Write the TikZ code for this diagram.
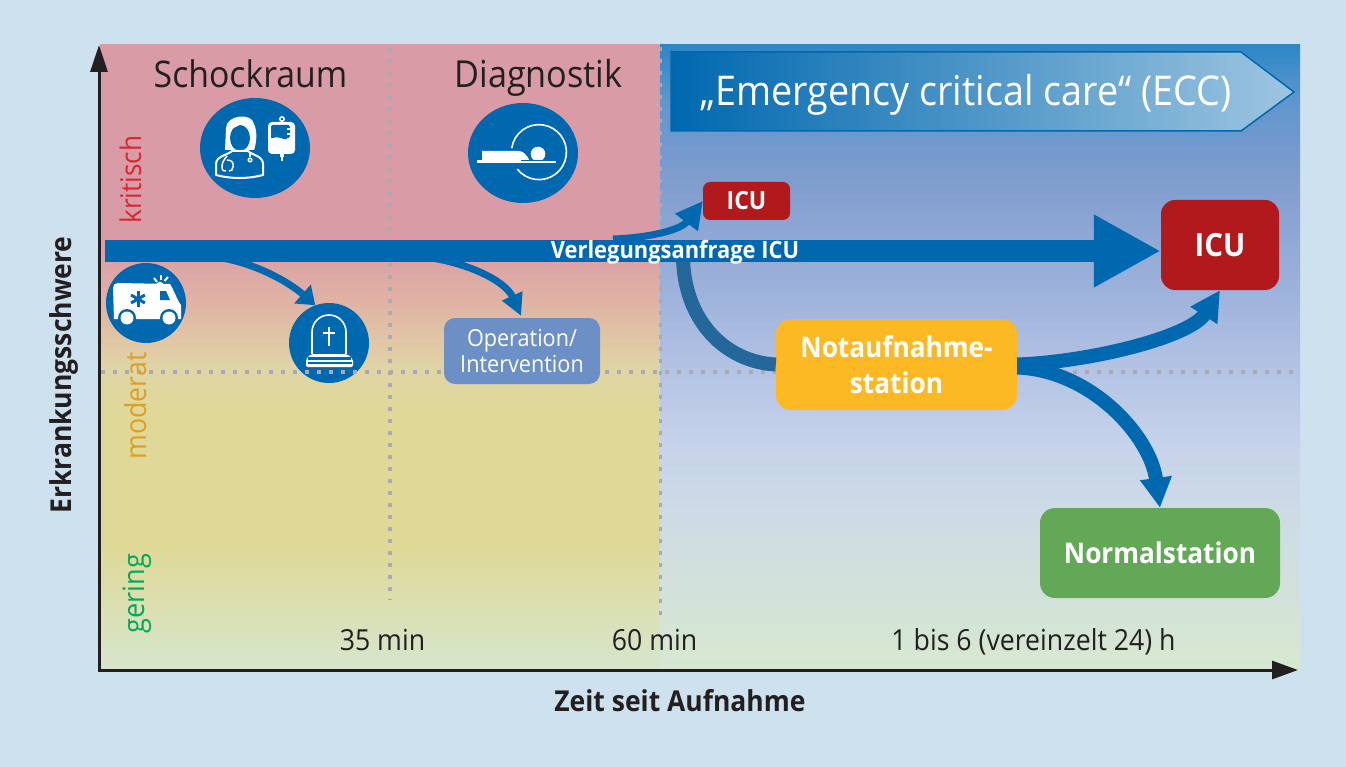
\documentclass[tikz,border=0pt]{standalone}
\usepackage{fontspec}
\setmainfont{Open Sans}[FakeStretch=0.92]
\usetikzlibrary{arrows.meta}
\definecolor{bgc}{RGB}{205,225,238}
\definecolor{axisc}{RGB}{35,31,32}
\definecolor{blu}{RGB}{0,104,175}
\definecolor{dblu}{RGB}{36,104,155}
\definecolor{dotc}{RGB}{170,170,175}
\definecolor{icured}{RGB}{178,25,28}
\definecolor{opbox}{RGB}{108,143,198}
\definecolor{nfbox}{RGB}{253,185,36}
\definecolor{nsbox}{RGB}{98,168,86}
\definecolor{critc}{RGB}{215,40,50}
\definecolor{modc}{RGB}{220,160,40}
\definecolor{gerc}{RGB}{0,170,90}
\pgfdeclareverticalshading{leftbg}{100bp}{
 rgb(0bp)=(0.839,0.902,0.804);
 rgb(25bp)=(0.839,0.902,0.804);
 rgb(35.4bp)=(0.878,0.847,0.588);
 rgb(45bp)=(0.878,0.847,0.588);
 rgb(48.85bp)=(0.878,0.839,0.647);
 rgb(54.6bp)=(0.878,0.698,0.647);
 rgb(59.4bp)=(0.851,0.608,0.647);
 rgb(75bp)=(0.851,0.608,0.647);
 rgb(100bp)=(0.851,0.608,0.647)}
\pgfdeclareverticalshading{rightbg}{100bp}{
 rgb(0bp)=(0.843,0.910,0.816);
 rgb(25bp)=(0.843,0.910,0.816);
 rgb(37bp)=(0.804,0.863,0.894);
 rgb(43.4bp)=(0.776,0.824,0.922);
 rgb(54.6bp)=(0.627,0.706,0.863);
 rgb(65bp)=(0.490,0.608,0.804);
 rgb(70.6bp)=(0.373,0.588,0.804);
 rgb(75bp)=(0.176,0.529,0.776);
 rgb(100bp)=(0.176,0.529,0.776)}
\usetikzlibrary{shapes.geometric}
\tikzset{
 x=1pt,y=-1pt,
 lbl/.style={inner sep=0pt,text=axisc},
 dots/.style={dotc,line width=3.6pt,dash pattern=on 3.6pt off 8.4pt},
 ax/.style={axisc,line width=3pt},
 disc/.style={ellipse,fill=blu,inner sep=0pt},
 wbox/.style={rounded corners=#1,inner sep=0pt,align=center,text=white,font=\bfseries},
 flow/.style={blu,line width=#1},
 ico/.style={white,line width=2pt,line join=round,line cap=round},
}
\begin{document}
\begin{tikzpicture}
\useasboundingbox (0,0) rectangle (1346,767);
\fill[bgc] (0,0) rectangle (1346,767);
% panels
\path[shading=leftbg] (100,45) rectangle (660,670);
\path[shading=rightbg] (660,45) rectangle (1300,670);
% circle below dots
\node[disc,minimum width=80pt,minimum height=80pt] (grave) at (329,343) {};
% dotted guides
\draw[dots] (390,47) -- (390,600);
\draw[dots] (660.5,47) -- (660.5,620);
\draw[dots] (101,372) -- (1298,372);
% banner
\path[left color=blu,right color=blu!38!white,draw=blu,line width=1.5pt]
  (671,52) -- (1241,52) -- (1294,92) -- (1241,131) -- (671,131) -- cycle;
\node[lbl,text=white,font=\fontsize{41}{41}\selectfont,anchor=base west] (ecc) at (700,105.5) {„Emergency critical care“ (ECC)};
% boxes
\node[wbox=14pt,fill=icured,minimum width=118pt,minimum height=90pt,font=\bfseries\fontsize{32}{32}\selectfont] (icu) at (1220,245) {ICU};
\node[wbox=7pt,fill=icured,minimum width=87pt,minimum height=38pt,font=\bfseries\fontsize{25}{25}\selectfont] (icus) at (746.5,201) {\raisebox{-1.5pt}{ICU}};
\node[wbox=11pt,fill=opbox,minimum width=156pt,minimum height=66pt,font=\fontsize{23.5}{26}\selectfont] (op) at (522,351) {Operation/\\Intervention};
\node[wbox=15pt,fill=nfbox,minimum width=241pt,minimum height=91pt,font=\bfseries\fontsize{28.5}{36}\selectfont] (nf) at (896.5,364.5) {\raisebox{-1pt}{Notaufnahme-}\\\raisebox{-1pt}{station}\hspace{8pt}};
\node[wbox=15pt,fill=nsbox,minimum width=240pt,minimum height=90pt,font=\bfseries\fontsize{28.5}{28.5}\selectfont] (ns) at (1160,553) {\raisebox{-1pt}{Normalstation}};
% connectors
\coordinate (mainstart) at (105,251);
\coordinate (s1) at (215,257);
\coordinate (s2) at (425,257);
\coordinate (s3) at (613,239);
\coordinate (s4) at (683,255);
\draw[dblu,line width=14pt] (s4) .. controls (683,320) and (725,362) .. (nf.west);
\draw[flow=22pt,-{Triangle[length=67pt,width=68pt]}] (mainstart) -- (mainstart -| icu.west);
\draw[flow=7pt,-{Triangle[length=17pt,width=24pt]}] (s1) .. controls (255,262) and (290,283) .. (grave.110);
\draw[flow=7pt,-{Triangle[length=22pt,width=21pt]},shorten >=2pt] (s2) .. controls (465,262) and (505,280) .. (op.north);
\draw[flow=7pt,-{Triangle[length=27pt,width=27pt]}] (s3) .. controls (645,238) and (680,231) .. (icus.west);
\draw[flow=14pt,-{Triangle[length=30pt,width=30pt]}] (nf.east) .. controls (1090,362) and (1190,337) .. (icu.south);
\draw[flow=14pt,-{Triangle[length=30pt,width=30pt]}] ([yshift=-3pt]nf.east) .. controls (1090,370) and (1150,435) .. (ns.north);
\node[lbl,text=white,font=\bfseries\fontsize{23.8}{23.8}\selectfont,anchor=base] (verl) at (675,258.5) {Verlegungsanfrage ICU};
% axes
\coordinate (orig) at (99,670);
\coordinate (ytop) at (99,45);
\coordinate (xend) at (1298,670);
\draw[ax,-{Triangle[length=27pt,width=17pt]}] ([yshift=1.5pt]orig) -- (ytop);
\draw[ax,-{Triangle[length=26pt,width=18pt]}] ([xshift=-1.5pt]orig) -- (xend);
% discs
\node[disc,minimum width=110pt,minimum height=100pt] (d1) at (255,148) {};
\node[disc,minimum width=110pt,minimum height=100pt] (d2) at (523,153) {};
\node[disc,minimum width=80pt,minimum height=80pt] (amb) at (146,303) {};
% doctor icon
\fill[white] (225,150) -- (226,128) .. controls (226,115) and (252,112) .. (254,124) .. controls (258,132) and (256,145) .. (254,150) -- cycle;
\fill[blu] (240,138) ellipse[x radius=10pt,y radius=13pt];
\fill[white] (226,129) .. controls (235,129) and (243,124) .. (246,118) .. controls (240,116) and (229,118) .. (226,129) -- cycle;
\draw[ico] (216,175) -- (216,164) .. controls (216,156) and (228,155) .. (232,151) -- (248,151) .. controls (252,155) and (263,156) .. (263,164) -- (263,175) .. controls (248,179) and (231,179) .. (216,175) -- cycle;
\draw[white,line width=1.5pt] (227,156) .. controls (224,160) and (222,162) .. (222,167) .. controls (222,171) and (224,171) .. (226,171);
\draw[white,line width=1.5pt] (227,160) .. controls (232,160) and (234,163) .. (233,167) .. controls (233,170) and (231,171) .. (229,171);
\draw[white,line width=1.5pt] (250,153) -- (250,157);
\fill[white] (250,160) circle[radius=2.6pt];
\fill[blu] (250,160) circle[radius=1pt];
% iv bag icon
\draw[white,line width=1.5pt] (282,119) circle[radius=2.2pt];
\fill[white,rounded corners=4pt] (268,122) rectangle (295,154);
\fill[blu,rounded corners=2pt] (271,125) -- (290,125) -- (290,138) .. controls (284,141) and (278,135) .. (271,139) -- cycle;
\foreach \yy in {128,133,138}{\fill[white] (287,\yy) rectangle (291,\yy+2);}
\fill[white] (280,153) rectangle (284,157);
\fill[white] (281.2,157) rectangle (282.8,161);
% scanner icon
\draw[white,line width=1.6pt] (511.7,148.3) arc[start angle=172,end angle=-142,radius=27.5pt];
\fill[white] (482,161) -- (482,151) -- (519,151) .. controls (524,151) and (527,156) .. (530,161) -- cycle;
\fill[white] (538,154) circle[radius=7.3pt];
\fill[white] (477,160.5) rectangle (556,163);
\draw[blu,line width=0.7pt] (521,160.5) -- (556,160.5);
% ambulance icon
\fill[white] (113,288) .. controls (113,285) and (115,283) .. (118,283) -- (170,284) .. controls (173,288) and (177,300) .. (181,305) -- (181,319) -- (114,319) -- cycle;
\fill[blu] (160,291) -- (166,291) -- (170,300) -- (160,300) -- cycle;
\foreach \aa in {0,60,120}{\draw[blu,line width=3pt,rotate around={\aa:(138,299)}] (138,291) -- (138,307);}
\foreach \cx in {127,169}{\fill[blu] (\cx,318) circle[radius=9pt];\fill[white] (\cx,318) circle[radius=6.5pt];}
\fill[white] (156,287) .. controls (156,280) and (164,280) .. (164,287) -- cycle;
\draw[white,line width=2pt] (154,278) -- (157,282);
\draw[white,line width=2pt] (160.5,275) -- (160.5,280);
\draw[white,line width=2pt] (168,277) -- (164.5,281);
% grave icon
\draw[white,line width=1.6pt] (312,354) -- (312,332) arc[start angle=180,end angle=0,radius=17pt] -- (346,354);
\fill[white,rounded corners=2pt] (306,367) -- (306,359) -- (311,354) -- (347,354) -- (353,359) -- (353,367) -- cycle;
\fill[blu] (308,356.5) rectangle (351,359.5);
\fill[blu] (307.5,362) rectangle (351.5,364);
\draw[white,line width=1.4pt] (329,327) -- (329,346);
\draw[white,line width=1.4pt] (323,333) -- (335,333);
% texts
\node[lbl,font=\fontsize{36.7}{36.7}\selectfont,anchor=base] (t1) at (250.5,88) {Schockraum};
\node[lbl,font=\fontsize{37.2}{37.2}\selectfont,anchor=base] (t2) at (538.5,88) {Diagnostik};
\node[lbl,font=\fontsize{29}{29}\selectfont,anchor=base] (t3) at (382.5,650) {35 min};
\node[lbl,font=\fontsize{29}{29}\selectfont,anchor=base] (t4) at (654.5,650) {60 min};
\node[lbl,font=\fontsize{29}{29}\selectfont,anchor=base] (t5) at (1033.5,650) {1 bis 6 (vereinzelt 24) h};
\node[lbl,font=\bfseries\fontsize{28.8}{28.8}\selectfont,anchor=base] (xl) at (680,711) {Zeit seit Aufnahme};
\node[lbl,font=\bfseries\fontsize{28.8}{28.8}\selectfont,rotate=90,anchor=base] (yl) at (71,375) {Erkrankungsschwere};
\node[lbl,text=critc,font=\fontsize{28.5}{28.5}\selectfont,rotate=90,anchor=base] (k) at (141,179.5) {kritisch};
\node[lbl,text=modc,font=\fontsize{29}{29}\selectfont,rotate=90,anchor=base] (m) at (146,406) {moderat};
\node[lbl,text=gerc,font=\fontsize{29.5}{29.5}\selectfont,rotate=90,anchor=base] (g) at (144,593.5) {gering};
\end{tikzpicture}
\end{document}
